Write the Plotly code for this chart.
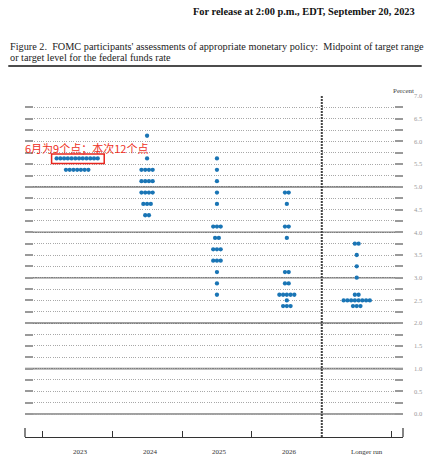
"""FOMC dot plot, September 2023 SEP (Figure 2)."""
import plotly.graph_objects as go

# ── data ─────────────────────────────────────────────────────────────────────
YEARS = ['2023', '2024', '2025', '2026', 'Longer run']

levels_2023 = [5.625, 5.375]
counts_2023 = [12, 7]

levels_2024 = [6.125, 5.625, 5.375, 5.125, 4.875, 4.625, 4.375]
counts_2024 = [1, 1, 4, 4, 4, 3, 2]

levels_2025 = [5.625, 5.375, 5.125, 4.875, 4.625, 4.125, 3.875, 3.625, 3.375, 3.125, 2.875, 2.625]
counts_2025 = [1, 1, 1, 1, 1, 3, 2, 3, 3, 1, 1, 1]

levels_2026 = [4.875, 4.625, 4.125, 3.875, 3.125, 2.875, 2.625, 2.5, 2.375]
counts_2026 = [2, 1, 2, 1, 2, 2, 5, 1, 3]

levels_lr = [3.75, 3.5, 3.25, 3.0, 2.625, 2.5, 2.375]
counts_lr = [2, 1, 1, 1, 2, 8, 3]

Y_TICKS = [i * 0.25 for i in range(29)]          # 0.0 .. 7.0
Y_LABELS = [f'{v:.1f}' if (v * 2) % 1 == 0 else '' for v in Y_TICKS]
SOLID_LINES = [0, 1, 2, 3, 4, 5]
X_TICKS = [-0.5, 0.5, 1.5, 2.5, 4.5]

NOTE = '6月为9个点；本次12个点'

# ── geometry helpers (window pixels -> paper) ────────────────────────────────
W, H = 434, 456
L, R, T, B = 25, 409, 96, 437


def px_x(p):
    return (p - L) / (R - L)


def px_y(p):
    return (B - p) / (B - T)


SERIF = 'Liberation Serif'
DOT = '#1a75b5'
STEP = 0.0535   # horizontal spacing between dots in one row (x units)

columns = [
    (levels_2023, counts_2023),
    (levels_2024, counts_2024),
    (levels_2025, counts_2025),
    (levels_2026, counts_2026),
    (levels_lr, counts_lr),
]

xs, ys = [], []
for ci, (lev, cnt) in enumerate(columns):
    for v, n in zip(lev, cnt):
        for k in range(n):
            xs.append(ci + STEP * (k - (n - 1) / 2))
            ys.append(v)

fig = go.Figure(go.Scatter(
    x=xs, y=ys, mode='markers',
    marker=dict(color=DOT, size=4.3, line=dict(width=0)),
    hoverinfo='y', showlegend=False,
))

shapes = []
for v in SOLID_LINES:
    shapes.append(dict(type='line', xref='paper', yref='y', x0=0, x1=1, y0=v, y1=v,
                       line=dict(color='#808080', width=1.6), layer='below'))
# vertical separator before the longer run column
shapes.append(dict(type='line', xref='x', yref='y', x0=3.5, x1=3.5, y0=-0.506, y1=7.0,
                   line=dict(color='#444', width=2, dash='2px,1px')))
# end ticks of the bottom axis
for xp in (0, 1):
    shapes.append(dict(type='line', xref='paper', yref='paper', x0=xp, x1=xp,
                       y0=0, y1=px_y(428), line=dict(color='#333', width=1.2)))
# red highlight box
shapes.append(dict(type='rect', xref='x', yref='y', x0=-0.366, x1=0.387, y0=5.514, y1=5.723,
                   line=dict(color='#e8261e', width=1.5)))
# rule under the caption
shapes.append(dict(type='line', xref='paper', yref='paper', x0=px_x(8), x1=px_x(428),
                   y0=px_y(66), y1=px_y(66), line=dict(color='#111', width=1.6)))

annotations = [
    dict(text='<b>For release at 2:00 p.m., EDT, September 20, 2023</b>',
         xref='paper', yref='paper', x=px_x(423), y=px_y(11.5), xanchor='right', yanchor='middle',
         showarrow=False, font=dict(family=SERIF, size=10.4, color='#111')),
    dict(text="Figure 2.  FOMC participants' assessments of appropriate monetary policy:  Midpoint of target range",
         xref='paper', yref='paper', x=px_x(8), y=px_y(47), xanchor='left', yanchor='middle',
         showarrow=False, font=dict(family=SERIF, size=10.25, color='#222')),
    dict(text='or target level for the federal funds rate',
         xref='paper', yref='paper', x=px_x(8), y=px_y(57.5), xanchor='left', yanchor='middle',
         showarrow=False, font=dict(family=SERIF, size=10.25, color='#222')),
    dict(text='Percent', xref='paper', yref='paper', x=px_x(409), y=px_y(90.5),
         xanchor='center', yanchor='middle', showarrow=False,
         font=dict(family=SERIF, size=7, color='#444')),
    dict(text=NOTE, xref='paper', yref='paper', x=px_x(23), y=px_y(147.5),
         xanchor='left', yanchor='middle', showarrow=False,
         font=dict(family='Noto Sans CJK SC', size=11, color='#ee3024')),
]
for i, lab in enumerate(YEARS):
    annotations.append(dict(text=lab, xref='x', yref='paper', x=i, y=px_y(452),
                            xshift=3 if i < 4 else 10, xanchor='center', yanchor='middle',
                            showarrow=False, font=dict(family=SERIF, size=7, color='#333')))

fig.update_layout(
    width=W, height=H,
    margin=dict(l=L, r=W - R, t=T, b=H - B, pad=0),
    plot_bgcolor='white', paper_bgcolor='white',
    xaxis=dict(range=[-0.7465, 4.662], showgrid=False, zeroline=False,
               showticklabels=False, showline=True, linecolor='#333', linewidth=1.2,
               ticks='inside', tickvals=X_TICKS, ticklen=6, tickwidth=1.2, tickcolor='#333'),
    yaxis=dict(range=[-0.506, 7.0], side='right', zeroline=False,
               tickvals=Y_TICKS, ticktext=Y_LABELS,
               ticks='inside', ticklen=8, tickwidth=2, tickcolor='#9a9a9a', mirror='ticks',
               showline=False, ticklabelstandoff=10,
               tickfont=dict(family=SERIF, size=6.5, color='#999'),
               showgrid=True, gridcolor='#a8a8a8', gridwidth=1, griddash='1px,1.3px'),
    shapes=shapes, annotations=annotations,
)

# drop the default page margin so the figure fills the window exactly
fig.write_html('out.html', config={'displayModeBar': False},
               post_script="document.body.style.margin='0';")
